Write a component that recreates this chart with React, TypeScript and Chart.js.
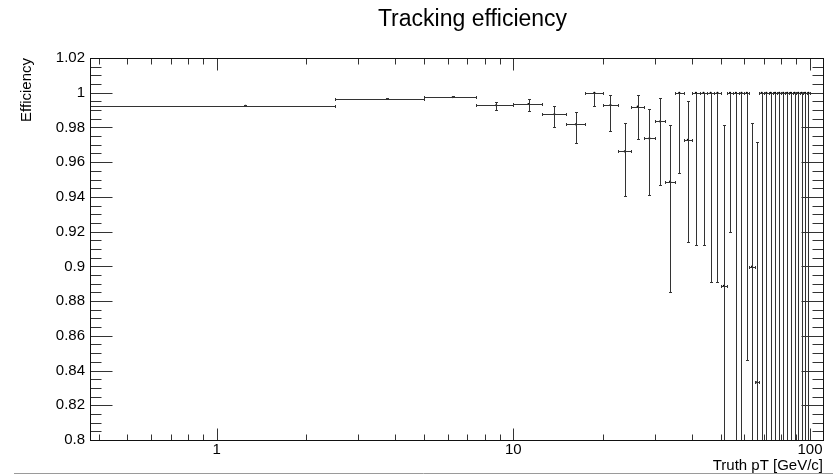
import { useEffect, useRef } from 'react';
import { Chart, registerables } from 'chart.js';

Chart.register(...registerables);

// Bin edges of the truth pT histogram [GeV/c]
const binEdges = [
  0, 2.5, 5, 7.5, 10, 12.5, 15, 17.5, 20, 22.5, 25, 27.5, 30, 32.5, 35, 37.5, 40,
  42.5, 45, 47.5, 50, 52.5, 55, 57.5, 60, 62.5, 65, 67.5, 70, 72.5, 75, 77.5, 80,
  82.5, 85, 87.5, 90, 92.5, 95, 97.5, 100,
];

const efficiency = [
  0.9925, 0.9964, 0.9975, 0.9928, 0.9935, 0.9876, 0.9818, 1.0, 0.9929, 0.9662,
  0.992, 0.9737, 0.9835, 0.9488, 1.0, 0.9728, 1.0, 1.0, 1.0, 1.0,
  0.8888, 1.0, 1.0, 1.0, 1.0, 0.8998, 0.8332, 1.0, 1.0, 1.0,
  1.0, 1.0, 1.0, 1.0, 1.0, 1.0, 1.0, 1.0, 1.0, 1.0,
];

const errLow = [
  0.0003, 0.0004, 0.0005, 0.0025, 0.0042, 0.0075, 0.0106, 0.0075, 0.0151, 0.0259,
  0.0188, 0.0328, 0.0368, 0.0638, 0.0464, 0.059, 0.0877, 0.0877, 0.1088, 0.1088,
  0.33, 0.08, 0.369, 0.602, 0.154, 0.4, 0.45, 0.841, 0.841, 0.602,
  0.841, 0.841, 0.841, 0.602, 0.841, 0.841, 0.841, 0.841, 0.841, 0.841,
];

const errHigh = [
  0.0003, 0.0004, 0.0005, 0.0019, 0.0027, 0.0049, 0.0069, 0, 0.0056, 0.0162,
  0.0065, 0.0171, 0.0133, 0.0328, 0, 0.0224, 0, 0, 0, 0,
  0.0924, 0, 0, 0, 0, 0.0829, 0.1382, 0, 0, 0,
  0, 0, 0, 0, 0, 0, 0, 0, 0, 0,
];

const xTickValues = [1, 10, 100];
const yTickValues = [0.8, 0.82, 0.84, 0.86, 0.88, 0.9, 0.92, 0.94, 0.96, 0.98, 1.0, 1.02];

const titleText = 'Tracking efficiency';
const xTitle = 'Truth pT [GeV/c]';
const yTitle = 'Efficiency';

const FONT = '"Liberation Sans", Arial, Helvetica, sans-serif';
const LINE = '#333';

const snap = (v: number) => Math.round(v) + 0.5;

const errorBarPlugin = {
  id: 'errorBars',
  afterDatasetsDraw(chart: any) {
    const { ctx, chartArea: a, scales } = chart;
    const x = scales.x;
    const y = scales.y;
    ctx.save();
    ctx.beginPath();
    ctx.rect(a.left, a.top, a.right - a.left, a.bottom - a.top);
    ctx.clip();
    ctx.strokeStyle = LINE;
    ctx.lineWidth = 1;
    const seg = (x1: number, y1: number, x2: number, y2: number) => {
      ctx.beginPath();
      ctx.moveTo(x1, y1);
      ctx.lineTo(x2, y2);
      ctx.stroke();
    };
    for (let i = 0; i < efficiency.length; i++) {
      const lo = binEdges[i];
      const hi = binEdges[i + 1];
      const c = (lo + hi) / 2;
      const xl = lo > 0 ? x.getPixelForValue(lo) : a.left - 10;
      const xh = x.getPixelForValue(hi);
      const xc = snap(x.getPixelForValue(c));
      const yc = snap(y.getPixelForValue(efficiency[i]));
      const yt = y.getPixelForValue(efficiency[i] + errHigh[i]);
      const yb = y.getPixelForValue(efficiency[i] - errLow[i]);
      // horizontal bin-width bar with end caps
      seg(Math.round(xl), yc, Math.round(xh) + 1, yc);
      seg(snap(xl), yc - 1.5, snap(xl), yc + 1.5);
      seg(snap(xh), yc - 1.5, snap(xh), yc + 1.5);
      // vertical error bars with caps
      if (yc - yt > 1) {
        seg(xc, Math.round(yt), xc, yc);
        seg(xc - 1.5, snap(yt), xc + 1.5, snap(yt));
      }
      if (yb - yc > 1) {
        seg(xc, yc, xc, Math.round(yb));
        seg(xc - 1.5, snap(yb), xc + 1.5, snap(yb));
      }
    }
    ctx.restore();
  },
};

const framePlugin = {
  id: 'rootFrame',
  afterDraw(chart: any) {
    const { ctx, chartArea: a, scales } = chart;
    const x = scales.x;
    const y = scales.y;
    ctx.save();
    ctx.strokeStyle = LINE;
    ctx.lineWidth = 1;
    const seg = (x1: number, y1: number, x2: number, y2: number) => {
      ctx.beginPath();
      ctx.moveTo(x1, y1);
      ctx.lineTo(x2, y2);
      ctx.stroke();
    };
    const L = snap(a.left);
    const R = snap(a.right);
    const T = snap(a.top);
    const B = snap(a.bottom);
    // y ticks (left and right, inward)
    const yMin = y.min;
    const yMax = y.max;
    for (let k = 0; k <= Math.round((yMax - yMin) / 0.005); k++) {
      const v = yMin + k * 0.005;
      const major = k % 4 === 0;
      const len = major ? 22 : 11;
      const py = snap(y.getPixelForValue(v));
      seg(L, py, L + len, py);
      seg(R, py, R - len, py);
    }
    // x ticks (log, bottom and top, inward)
    for (let e = -1; e <= 2; e++) {
      for (let m = 1; m <= 9; m++) {
        const v = m * Math.pow(10, e);
        if (v < x.min || v > x.max) continue;
        const len = m === 1 ? 12 : 6;
        const px = snap(x.getPixelForValue(v));
        seg(px, B, px, B - len);
        seg(px, T, px, T + len);
      }
    }
    // frame
    ctx.strokeStyle = '#111';
    ctx.strokeRect(L, T, R - L, B - T);
    // title
    ctx.fillStyle = '#000';
    ctx.font = `23px ${FONT}`;
    ctx.textAlign = 'center';
    ctx.textBaseline = 'alphabetic';
    ctx.fillText(titleText, 472.5, 26);
    // bottom canvas edge line
    ctx.strokeStyle = '#9a9a9a';
    seg(14, 473.5, chart.width, 473.5);
    ctx.restore();
  },
};

export default function App() {
  const canvasRef = useRef<HTMLCanvasElement | null>(null);

  useEffect(() => {
    const canvas = canvasRef.current;
    if (!canvas) return;
    const points = efficiency.map((v, i) => ({
      x: (binEdges[i] + binEdges[i + 1]) / 2,
      y: v,
    }));
    const chart = new Chart(canvas, {
      type: 'scatter',
      data: {
        datasets: [
          {
            data: points,
            pointRadius: 1.1,
            pointBackgroundColor: '#000',
            pointBorderWidth: 0,
            showLine: false,
          },
        ],
      },
      options: {
        animation: false,
        responsive: false,
        events: [],
        layout: { padding: { top: 58, right: 10, left: 0, bottom: 0 } },
        plugins: {
          legend: { display: false },
          tooltip: { enabled: false },
          title: { display: false },
        },
        scales: {
          x: {
            type: 'logarithmic',
            min: 0.374,
            max: 110.6,
            grid: { display: false, drawTicks: false, tickLength: 0 },
            border: { display: false },
            afterBuildTicks: (s: any) => {
              s.ticks = xTickValues.map((v) => ({ value: v }));
            },
            afterFit: (s: any) => {
              s.height = 35;
            },
            ticks: {
              padding: 1,
              color: '#000',
              font: { family: FONT, size: 15 },
              autoSkip: false,
              maxRotation: 0,
              callback: (v: any) => String(v),
            },
            title: {
              display: true,
              text: xTitle,
              align: 'end',
              color: '#000',
              font: { family: FONT, size: 15 },
              padding: { top: 0, bottom: 0 },
            },
          },
          y: {
            type: 'linear',
            min: 0.8,
            max: 1.02,
            grid: { display: false, drawTicks: false, tickLength: 0 },
            border: { display: false },
            afterBuildTicks: (s: any) => {
              s.ticks = yTickValues.map((v) => ({ value: v }));
            },
            afterFit: (s: any) => {
              s.width = 90;
            },
            ticks: {
              padding: 5,
              color: '#000',
              font: { family: FONT, size: 15 },
              autoSkip: false,
              callback: (v: any) => String(Number(Number(v).toFixed(3))),
            },
            title: {
              display: true,
              text: yTitle,
              align: 'end',
              color: '#000',
              font: { family: FONT, size: 15 },
              padding: { top: 18, bottom: 0 },
            },
          },
        },
      },
      plugins: [errorBarPlugin, framePlugin],
    } as any);
    return () => chart.destroy();
  }, []);

  return (
    <div style={{ position: 'fixed', left: 0, top: 0, width: 833, height: 475, background: '#fff' }}>
      <canvas ref={canvasRef} width={833} height={475} />
    </div>
  );
}
